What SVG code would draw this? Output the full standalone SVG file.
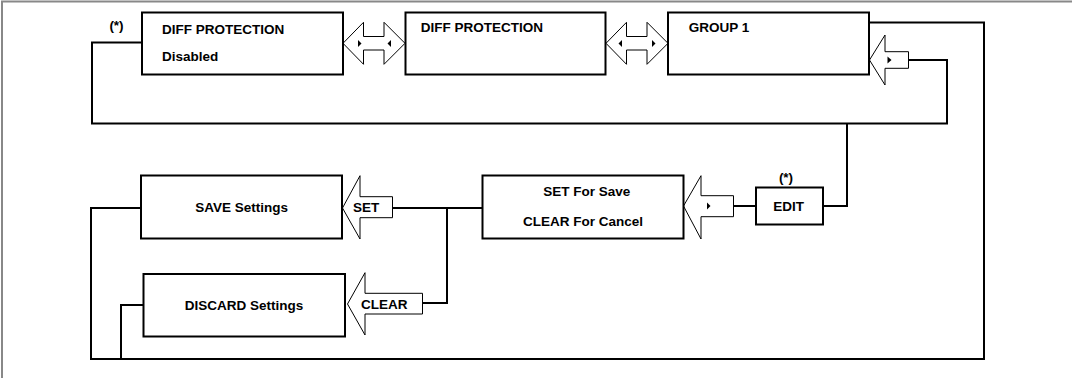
<svg xmlns="http://www.w3.org/2000/svg" width="1072" height="378" viewBox="0 0 1072 378">
<style>
.box{fill:#fff;stroke:#000;stroke-width:2}
.con{fill:none;stroke:#000;stroke-width:2}
.arr{fill:#fff;stroke:#000;stroke-width:1}
.tri{fill:#000;stroke:none}
text{font-family:"Liberation Sans",Arial,sans-serif;font-weight:bold;font-size:13.5px;fill:#000}
.c{text-anchor:middle}
</style>
<rect x="0" y="0" width="1072" height="378" fill="#fff"/>
<rect x="2" y="1.5" width="1100" height="420" fill="none" stroke="#888" stroke-width="2"/>
<g id="connectors">
<path class="con" d="M142,42.5 H92 V123.5 H947 V60 H908.5"/>
<path class="con" d="M869,22.5 H984 V359 H91 V208 H141"/>
<path class="con" d="M143.5,305 H121 V359"/>
<path class="con" d="M823,206 H847 V123.5"/>
<path class="con" d="M756,206 H733.5"/>
<path class="con" d="M482.5,208 H392.5"/>
<path class="con" d="M447,208 V303 H422.5"/>
</g>
<g id="arrow-1-2">
<polygon class="arr" points="343,43.3 363.5,22.3 363.5,36.5 384,36.5 384,22.3 405,43.3 384,64.3 384,50 363.5,50 363.5,64.3"/>
<polygon class="tri" points="358,40 361.5,43.5 358,47"/>
<polygon class="tri" points="391,40 387.5,43.5 391,47"/>
</g>
<g id="arrow-2-3">
<polygon class="arr" points="606,43.3 626.5,22.3 626.5,36.5 647,36.5 647,22.3 668,43.3 647,64.3 647,50 626.5,50 626.5,64.3"/>
<polygon class="tri" points="622,40 618.5,43.5 622,47"/>
<polygon class="tri" points="652,40 655.5,43.5 652,47"/>
</g>
<g id="arrow-group">
<polygon class="arr" points="869.5,60 885,35 885,51.7 908.5,51.7 908.5,68.3 885,68.3 885,85"/>
<polygon class="tri" points="887.5,56.5 891.5,60 887.5,63.5"/>
</g>
<g id="arrow-edit">
<polygon class="arr" points="683.5,206 701,175.7 701,195.7 733.5,195.7 733.5,216.7 701,216.7 701,239"/>
<polygon class="tri" points="707,202.5 710.5,206 707,209.5"/>
</g>
<g id="arrow-set">
<polygon class="arr" points="342.5,208 360,175.7 360,196.7 392.5,196.7 392.5,217.7 360,217.7 360,239"/>
<text x="353" y="211.5">SET</text>
</g>
<g id="arrow-clear">
<polygon class="arr" points="347.5,304 365,272.7 365,293.3 422.5,293.3 422.5,314 365,314 365,335"/>
<text x="361" y="308.5">CLEAR</text>
</g>
<g id="node-diff-disabled">
<rect class="box" x="142" y="12.5" width="201" height="62"/>
<text x="162" y="34">DIFF PROTECTION</text>
<text x="162" y="60.7">Disabled</text>
<text class="c" x="116.5" y="30">(*)</text>
</g>
<g id="node-diff">
<rect class="box" x="405.5" y="12.5" width="200" height="62"/>
<text x="420.7" y="32">DIFF PROTECTION</text>
</g>
<g id="node-group1">
<rect class="box" x="668" y="12.5" width="201" height="62"/>
<text x="688.7" y="32">GROUP 1</text>
</g>
<g id="node-save">
<rect class="box" x="141" y="175.5" width="201" height="63"/>
<text class="c" x="241.7" y="211.5">SAVE Settings</text>
</g>
<g id="node-setclear">
<rect class="box" x="482.5" y="175.5" width="201" height="63"/>
<text class="c" x="586.8" y="196">SET For Save</text>
<text class="c" x="583" y="226">CLEAR For Cancel</text>
</g>
<g id="node-edit">
<rect class="box" x="756" y="187.5" width="67" height="37"/>
<text class="c" x="788.7" y="210.7">EDIT</text>
<text class="c" x="786" y="182">(*)</text>
</g>
<g id="node-discard">
<rect class="box" x="143.5" y="274" width="201.5" height="62.5"/>
<text class="c" x="244" y="310">DISCARD Settings</text>
</g>
</svg>
